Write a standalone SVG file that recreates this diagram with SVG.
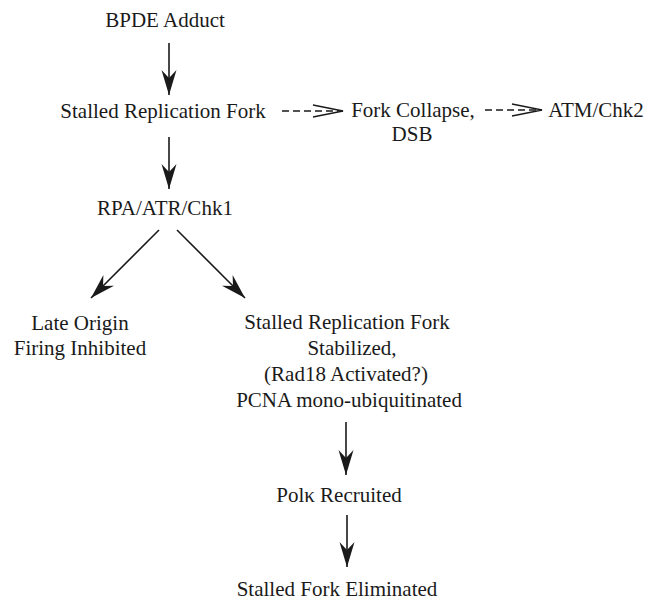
<svg xmlns="http://www.w3.org/2000/svg" width="650" height="600" viewBox="0 0 650 600">
<defs>
<style>
text{font-family:"Liberation Serif","Times New Roman",serif;font-size:21px;fill:#1a1a1a;text-anchor:middle}
.s{stroke:#1a1a1a;stroke-width:1.6;fill:none}
.d{stroke:#1a1a1a;stroke-width:1.4;fill:none;stroke-dasharray:7 4}
</style>
<marker id="ah" markerUnits="userSpaceOnUse" markerWidth="30" markerHeight="20" viewBox="-26 -10 30 20" refX="0" refY="0" orient="auto">
<path d="M0,0 L-25,-7.5 L-17,0 L-25,7.5 Z" fill="#1a1a1a"/>
</marker>
<marker id="oh" markerUnits="userSpaceOnUse" markerWidth="34" markerHeight="16" viewBox="-32 -8 34 16" refX="0" refY="0" orient="auto">
<path d="M-30,-6 L0,0 L-30,6" fill="none" stroke="#1a1a1a" stroke-width="1.3"/>
</marker>
</defs>
<rect width="650" height="600" fill="#ffffff"/>
<g id="connectors">
<line class="s" x1="169" y1="43" x2="169" y2="95" marker-end="url(#ah)"/>
<line class="s" x1="169" y1="137" x2="169" y2="189" marker-end="url(#ah)"/>
<line class="d" x1="282" y1="111" x2="343" y2="111" marker-end="url(#oh)"/>
<line class="d" x1="485" y1="110" x2="542" y2="110" marker-end="url(#oh)"/>
<line class="s" x1="159" y1="230" x2="91" y2="298" marker-end="url(#ah)"/>
<line class="s" x1="177" y1="230" x2="245" y2="298" marker-end="url(#ah)"/>
<line class="s" x1="346" y1="422" x2="346" y2="475" marker-end="url(#ah)"/>
<line class="s" x1="347" y1="515" x2="347" y2="567" marker-end="url(#ah)"/>
</g>
<g id="bpde"><text x="165" y="27">BPDE Adduct</text></g>
<g id="stalled"><text x="163" y="118">Stalled Replication Fork</text></g>
<g id="collapse"><text x="413" y="117">Fork Collapse,</text><text x="412" y="141">DSB</text></g>
<g id="atm"><text x="596" y="117">ATM/Chk2</text></g>
<g id="rpa"><text x="165" y="215">RPA/ATR/Chk1</text></g>
<g id="late"><text x="80" y="330">Late Origin</text><text x="80" y="355">Firing Inhibited</text></g>
<g id="stabilized"><text x="347" y="329">Stalled Replication Fork</text><text x="352" y="355">Stabilized,</text><text x="346" y="381">(Rad18 Activated?)</text><text x="349" y="407">PCNA mono-ubiquitinated</text></g>
<g id="polk"><text x="339" y="502">Polκ Recruited</text></g>
<g id="eliminated"><text x="337" y="596">Stalled Fork Eliminated</text></g>
</svg>
